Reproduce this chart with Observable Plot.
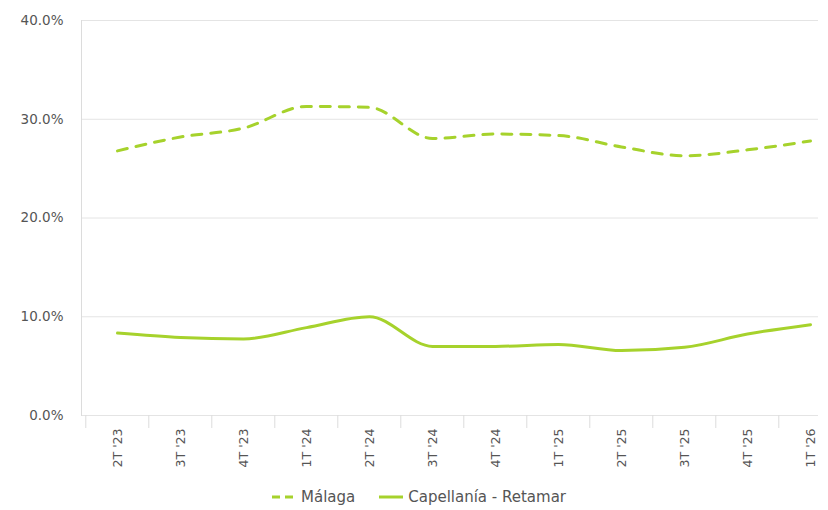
<!DOCTYPE html>
<html>
<head>
<meta charset="utf-8">
<script src="https://cdn.jsdelivr.net/npm/d3@7"></script>
<script src="https://cdn.jsdelivr.net/npm/@observablehq/plot@0.6"></script>
<style>
  body { margin: 0; background: #fff; font-family: "DejaVu Sans", Verdana, sans-serif; }
  #legend { display: flex; justify-content: center; align-items: center; gap: 24px; padding-left: 10px; margin-top: 8px; font-size: 15px; color: #555; }
  #legend .item { display: flex; align-items: center; gap: 5px; }
</style>
</head>
<body>
<div id="chart"></div>
<div id="legend"></div>
<script>
const quarters = ["2T '23","3T '23","4T '23","1T '24","2T '24","3T '24","4T '24","1T '25","2T '25","3T '25","4T '25","1T '26"];
const malaga = [26.8, 28.2, 29.1, 31.3, 31.2, 28.05, 28.5, 28.35, 27.2, 26.3, 26.9, 27.8];
const capellania = [8.35, 7.9, 7.75, 8.9, 10.0, 7.0, 7.0, 7.2, 6.57, 6.9, 8.25, 9.2];
const yTicks = [0, 10, 20, 30, 40];
const seriesNames = ["Málaga", "Capellanía - Retamar"];

const color = "#a6d22c";
const W = 828, H = 480, ML = 81, MR = 10, MT = 20, MB = 65;
const pad = 0.31, align = 0.81;
const step = (W - ML - MR) / (quarters.length - 1 + 2 * pad);

const rows = [];
quarters.forEach((q, i) => {
  rows.push({q, v: malaga[i], s: seriesNames[0]});
  rows.push({q, v: capellania[i], s: seriesNames[1]});
});

const plot = Plot.plot({
  width: W, height: H,
  marginLeft: ML, marginRight: MR, marginTop: MT, marginBottom: MB,
  style: {fontFamily: "DejaVu Sans, Verdana, sans-serif", background: "#fff"},
  x: {type: "point", domain: quarters, padding: pad, align: align, label: null},
  y: {domain: [0, 40], label: null},
  marks: [
    Plot.gridY(yTicks, {stroke: "#e4e4e4", strokeOpacity: 1}),
    Plot.frame({anchor: "left", stroke: "#dcdcdc"}),
    Plot.axisY(yTicks, {tickSize: 0, tickPadding: 18, tickFormat: d => d.toFixed(1) + "%", fontSize: 13.5, fill: "#555", label: null}),
    Plot.axisX({tickSize: 13, tickFormat: () => "", dx: -step / 2, stroke: "#dcdcdc", strokeOpacity: 1, label: null}),
    Plot.axisX({tickSize: 0, tickPadding: 13, tickRotate: -90, fontSize: 12.5, fill: "#555", label: null}),
    Plot.line(rows.filter(d => d.s === seriesNames[1]), {x: "q", y: "v", stroke: color, strokeWidth: 3, curve: "monotone-x"}),
    Plot.line(rows.filter(d => d.s === seriesNames[0]), {x: "q", y: "v", stroke: color, strokeWidth: 3, strokeDasharray: "10,9", curve: "monotone-x"})
  ]
});
document.getElementById("chart").appendChild(plot);

const legend = document.getElementById("legend");
seriesNames.forEach((name, i) => {
  const item = document.createElement("div");
  item.className = "item";
  const dash = i === 0 ? 'stroke-dasharray="8,5"' : '';
  item.innerHTML = `<svg width="24" height="10"><line x1="0" y1="5" x2="24" y2="5" stroke="${color}" stroke-width="3" ${dash}/></svg><span>${name}</span>`;
  legend.appendChild(item);
});
</script>
</body>
</html>
